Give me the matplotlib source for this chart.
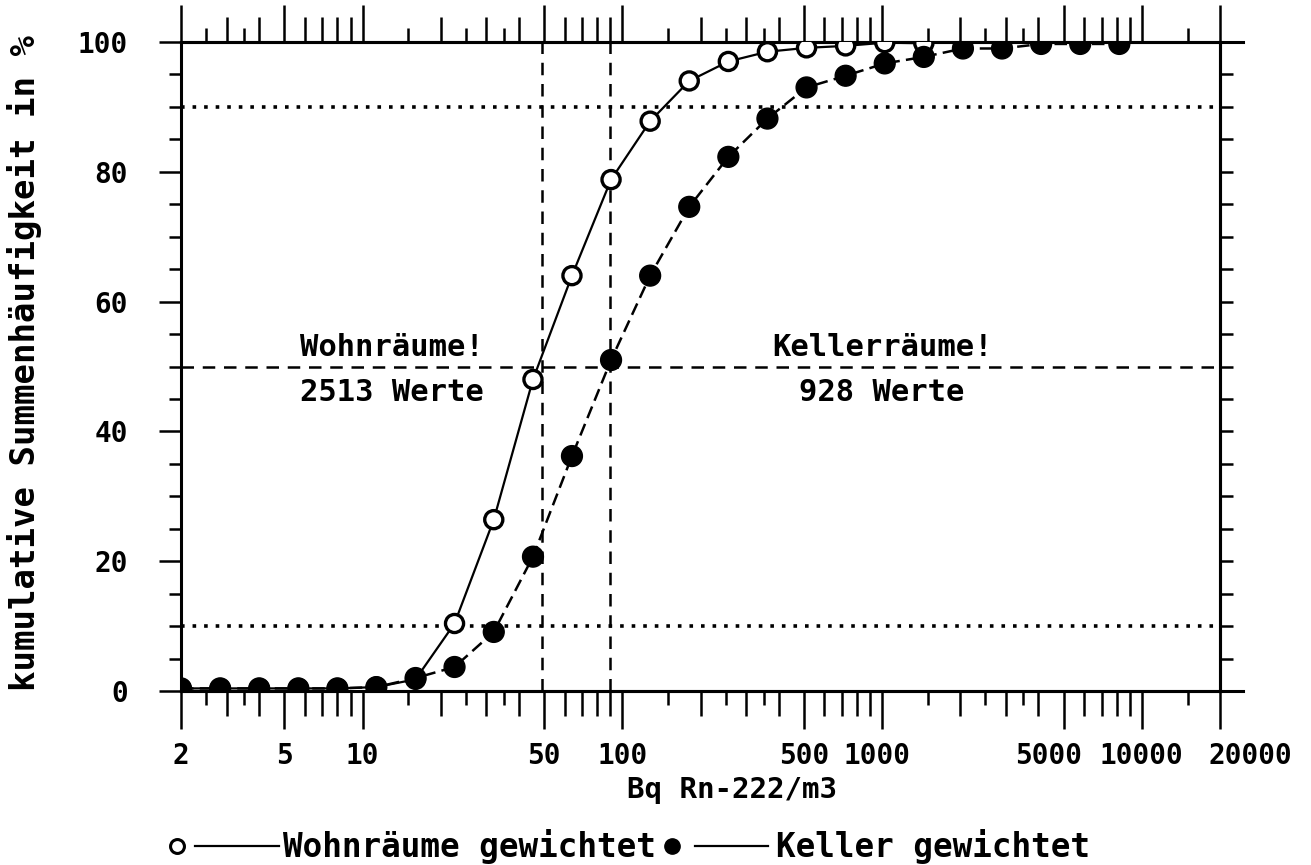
import matplotlib
matplotlib.use('Agg')
import matplotlib.pyplot as plt
from matplotlib.lines import Line2D
from matplotlib.ticker import NullFormatter, NullLocator


# Klassengrenzen in Bq Rn-222/m3 (Faktor Wurzel 2)
x_klassen = [2, 2.83, 4, 5.66, 8, 11.3, 16, 22.6, 32, 45.3, 64, 90.5, 128, 181,
             256, 362, 512, 724, 1024, 1448, 2048, 2896, 4096, 5793, 8192]

# kumulative Summenhaeufigkeit in %
wohn_gewichtet = [0.4, 0.4, 0.4, 0.4, 0.4, 0.6, 1.8, 10.4, 26.4, 48.0, 64.0, 78.8,
                  87.8, 94.0, 97.0, 98.5, 99.1, 99.4, 99.9, 99.8]
keller_gewichtet = [0.4, 0.4, 0.4, 0.4, 0.4, 0.6, 2.0, 3.7, 9.1, 20.7, 36.2, 51.0,
                    64.0, 74.6, 82.3, 88.2, 93.0, 94.8, 96.7, 97.7, 99.0, 99.0,
                    99.7, 99.7, 99.7]

# Medianwerte und Perzentile
median_wohn = 49
median_keller = 90
perzentile = [10, 90]

# Achsenteilung
x_haupt = [2, 5, 10, 50, 100, 500, 1000, 5000, 10000, 20000]
x_haupt_labels = ['2', '5', '10', '50', '100', '500', '1000', '5000', '10000', '20000']
x_mittel = [3, 4, 6, 7, 8, 9, 20, 30, 40, 60, 70, 80, 90, 200, 300, 400, 600, 700,
            800, 900, 2000, 3000, 4000, 6000, 7000, 8000, 9000]
x_kurz = [2.5, 3.5, 15, 25, 35, 150, 250, 350, 1500, 2500, 3500, 15000]
y_haupt = [0, 20, 40, 60, 80, 100]
y_neben = [5, 10, 15, 25, 30, 35, 45, 50, 55, 65, 70, 75, 85, 90, 95]

W, H = 1311, 865
FONT = 'DejaVu Sans Mono'
plt.rcParams['font.family'] = [FONT, 'DejaVu Sans']
plt.rcParams['font.weight'] = 'bold'


def fx(px):
    return px / W


def fy(py):
    return 1 - py / H


fig = plt.figure(figsize=(W / 100, H / 100), dpi=100)
ax = fig.add_axes([fx(181), fy(691), fx(1220 - 181), (691 - 42) / H])

ax.set_xscale('log')
ax.set_xlim(2, 20000)
ax.set_ylim(0, 100)

for s in ax.spines.values():
    s.set_linewidth(2.2)

# lange und mittlere Striche unten und oben
ax.set_xticks(x_haupt)
ax.set_xticks(x_mittel, minor=True)
ax.xaxis.set_major_formatter(NullFormatter())
ax.xaxis.set_minor_formatter(NullFormatter())
ax.tick_params(axis='x', which='major', direction='out', length=27, width=1.8,
               top=True, bottom=True)
ax.tick_params(axis='x', which='minor', direction='out', length=18, width=1.8,
               top=True, bottom=True)

# kurze Striche
for loc in ['bottom', 'top']:
    sec = ax.secondary_xaxis(loc)
    sec.set_xticks(x_kurz)
    sec.xaxis.set_minor_locator(NullLocator())
    sec.tick_params(length=10, width=1.8, labelbottom=False, labeltop=False)
    sec.spines[loc].set_linewidth(2.2)

# y-Achse links
ax.set_yticks(y_haupt)
ax.set_yticks(y_neben, minor=True)
ax.tick_params(axis='y', which='major', direction='out', length=16, width=1.8,
               pad=22, labelsize=20, right=False)
ax.tick_params(axis='y', which='minor', direction='out', length=9, width=1.8,
               right=False)
for t in ax.get_yticklabels():
    t.set_fontweight('bold')

# y-Achse rechts
sec_r = ax.secondary_yaxis('right')
sec_r.set_yticks(sorted(y_haupt + y_neben))
sec_r.tick_params(length=9.5, width=1.8, labelright=False)
sec_r.spines['right'].set_linewidth(2.2)

# Achsenlinien rechts etwas verlaengert
for yy in [0, 1]:
    ax.plot([1, 1.022], [yy, yy], transform=ax.transAxes, color='k', lw=2.2,
            clip_on=False)

# x-Beschriftung
label_versatz = {'1000': -4, '5000': -11, '20000': 22}
for v, lab in zip(x_haupt, x_haupt_labels):
    ax.annotate(lab, xy=(v, 0), xycoords=('data', 'axes fraction'),
                xytext=(label_versatz.get(lab, 0), -47), textcoords='offset points',
                ha='center', va='center', fontsize=20, fontweight='bold')

ax.annotate('Bq Rn-222/m3', xy=(265, 0), xycoords=('data', 'axes fraction'),
            xytext=(0, -71), textcoords='offset points', ha='center', va='center',
            fontsize=21, fontweight='bold')

fig.text(fx(25), fy(363), 'kumulative Summenhäufigkeit in %', rotation=90,
         ha='center', va='center', fontsize=24.5, fontweight='bold')

# Hilfslinien
dash_style = dict(color='k', lw=1.8, linestyle=(0, (5, 3.5)), zorder=1)
dot_style = dict(color='k', lw=2.6, linestyle=(0, (1, 2.2)), zorder=1)
ax.axhline(50, **dash_style)
ax.axvline(median_wohn, **dash_style)
ax.axvline(median_keller, **dash_style)
for p in perzentile:
    ax.axhline(p, **dot_style)

# Kurven: Linien und Marker getrennt
n = len(wohn_gewichtet)
ax.plot(x_klassen[:n], wohn_gewichtet, color='k', lw=1.6, zorder=3)
ax.scatter(x_klassen[:n], wohn_gewichtet, s=[170] * n, facecolor='white',
           edgecolor='k', linewidths=2.4, zorder=3.5)
ax.plot(x_klassen, keller_gewichtet, color='k', lw=1.8, linestyle=(0, (5, 2.5)),
        zorder=4)
ax.scatter(x_klassen, keller_gewichtet, s=[225] * len(x_klassen), facecolor='k',
           edgecolor='k', linewidths=1, zorder=4.5)

# Texte im Diagramm
txt = dict(ha='center', va='center', fontsize=22, fontweight='bold')
ax.text(13, 52.9, 'Wohnräume!', **txt)
ax.text(13, 46.0, '2513 Werte', **txt)
ax.text(1000, 52.9, 'Kellerräume!', **txt)
ax.text(1000, 46.0, '928 Werte', **txt)

# Legende unten
ly = fy(846)
fig.add_artist(Line2D([fx(177)], [ly], marker='o', ms=10, mfc='white', mec='k',
                      mew=2.2, transform=fig.transFigure))
fig.add_artist(Line2D([fx(195), fx(279)], [ly], color='k', lw=1.6,
                      transform=fig.transFigure))
fig.text(fx(283), ly, 'Wohnräume gewichtet', ha='left', va='center',
         fontsize=23.5, fontweight='bold')
fig.add_artist(Line2D([fx(672)], [ly], marker='o', ms=11, mfc='k', mec='k',
                      transform=fig.transFigure))
fig.add_artist(Line2D([fx(695), fx(768)], [ly], color='k', lw=1.6,
                      transform=fig.transFigure))
fig.text(fx(776), ly, 'Keller gewichtet', ha='left', va='center',
         fontsize=23.5, fontweight='bold')

fig.savefig('out.png', dpi=100)
